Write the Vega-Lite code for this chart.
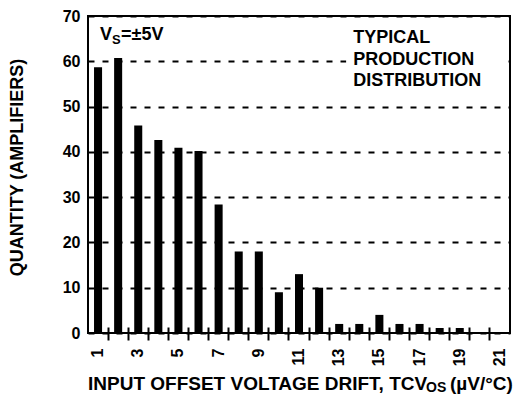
{
  "$schema": "https://vega.github.io/schema/vega-lite/v6.json",
  "width": 422,
  "height": 317,
  "autosize": {"type": "none"},
  "padding": {"left": 88, "top": 16, "right": 12, "bottom": 67},
  "background": "white",
  "config": {
    "font": "Liberation Sans",
    "view": {"stroke": "black", "strokeWidth": 2}
  },
  "layer": [
    {
      "data": {
        "values": [
          {"drift": 1, "count": 58.7},
          {"drift": 2, "count": 60.7},
          {"drift": 3, "count": 45.8},
          {"drift": 4, "count": 42.6},
          {"drift": 5, "count": 40.9},
          {"drift": 6, "count": 40.2},
          {"drift": 7, "count": 28.4},
          {"drift": 8, "count": 18},
          {"drift": 9, "count": 18},
          {"drift": 10, "count": 9},
          {"drift": 11, "count": 13},
          {"drift": 12, "count": 10},
          {"drift": 13, "count": 2},
          {"drift": 14, "count": 2},
          {"drift": 15, "count": 4},
          {"drift": 16, "count": 2},
          {"drift": 17, "count": 2},
          {"drift": 18, "count": 1.1},
          {"drift": 19, "count": 1.1},
          {"drift": 20, "count": 0},
          {"drift": 21, "count": 0}
        ]
      },
      "mark": {"type": "bar", "color": "black", "width": {"band": 0.4}},
      "encoding": {
        "x": {
          "field": "drift",
          "type": "ordinal",
          "scale": {"domain": [1,2,3,4,5,6,7,8,9,10,11,12,13,14,15,16,17,18,19,20,21], "paddingInner": 0, "paddingOuter": 0},
          "axis": {
            "title": null,
            "labelAngle": -90,
            "labelFontSize": 16,
            "labelFontWeight": "bold",
            "labelColor": "black",
            "labelExpr": "datum.value % 2 == 1 ? datum.label : ''",
            "bandPosition": 0,
            "labelOffset": 0,
            "tickSize": 13,
            "tickWidth": 2,
            "tickColor": "black",
            "tickOpacity": {"condition": {"test": "datum.value == 1", "value": 0}, "value": 1},
            "offset": -6,
            "domain": false,
            "labelPadding": 8,
            "grid": false
          }
        },
        "y": {
          "field": "count",
          "type": "quantitative",
          "scale": {"domain": [0, 70], "nice": false},
          "axis": {
            "title": "QUANTITY (AMPLIFIERS)",
            "titleFontSize": 18,
            "titleFontWeight": "bold",
            "titleColor": "black",
            "titlePadding": 36,
            "titleY": 151,
            "values": [0, 10, 20, 30, 40, 50, 60, 70],
            "labelFontSize": 16,
            "labelFontWeight": "bold",
            "labelColor": "black",
            "labelPadding": 8,
            "labelFlush": false,
            "tickSize": 0,
            "domain": false,
            "grid": true,
            "gridColor": "black",
            "gridWidth": 2,
            "gridDash": [6, 8],
            "gridOpacity": 1
          }
        }
      }
    },
    {
      "data": {"values": [{}]},
      "mark": {"type": "rect", "color": "white"},
      "encoding": {
        "x": {"datum": 13, "type": "ordinal", "bandPosition": 0.85},
        "x2": {"datum": 21, "bandPosition": 0.7},
        "y": {"datum": 68, "type": "quantitative"},
        "y2": {"datum": 54}
      }
    },
    {
      "data": {"values": [{}]},
      "mark": {"type": "text", "text": "V", "fontSize": 18, "fontWeight": "bold", "align": "left", "baseline": "alphabetic", "dx": 12, "color": "black"},
      "encoding": {"x": {"datum": 1, "type": "ordinal", "bandPosition": 0}, "y": {"datum": 64.7, "type": "quantitative"}}
    },
    {
      "data": {"values": [{}]},
      "mark": {"type": "text", "text": "S", "fontSize": 13, "fontWeight": "bold", "align": "left", "baseline": "alphabetic", "dx": 24, "dy": 4, "color": "black"},
      "encoding": {"x": {"datum": 1, "type": "ordinal", "bandPosition": 0}, "y": {"datum": 64.7, "type": "quantitative"}}
    },
    {
      "data": {"values": [{}]},
      "mark": {"type": "text", "text": "=±5V", "fontSize": 18, "fontWeight": "bold", "align": "left", "baseline": "alphabetic", "dx": 33, "color": "black"},
      "encoding": {"x": {"datum": 1, "type": "ordinal", "bandPosition": 0}, "y": {"datum": 64.7, "type": "quantitative"}}
    },
    {
      "data": {"values": [{}]},
      "mark": {"type": "text", "text": ["TYPICAL", "PRODUCTION", "DISTRIBUTION"], "lineHeight": 21.5, "fontSize": 18, "fontWeight": "bold", "align": "left", "baseline": "alphabetic", "dx": 4, "color": "black"},
      "encoding": {"x": {"datum": 14, "type": "ordinal", "bandPosition": 0}, "y": {"datum": 64, "type": "quantitative"}}
    },
    {
      "data": {"values": [{}]},
      "mark": {"type": "text", "text": "INPUT OFFSET VOLTAGE DRIFT, TCV", "fontSize": 19, "fontWeight": "bold", "align": "left", "baseline": "middle", "dx": 0, "color": "black", "clip": false},
      "encoding": {"x": {"datum": 1, "type": "ordinal", "bandPosition": 0}, "y": {"datum": -11.2, "type": "quantitative"}}
    },
    {
      "data": {"values": [{}]},
      "mark": {"type": "text", "text": "OS", "fontSize": 14, "fontWeight": "bold", "align": "left", "baseline": "middle", "dx": 338, "dy": 4, "color": "black", "clip": false},
      "encoding": {"x": {"datum": 1, "type": "ordinal", "bandPosition": 0}, "y": {"datum": -11.2, "type": "quantitative"}}
    },
    {
      "data": {"values": [{}]},
      "mark": {"type": "text", "text": "(µV/°C)", "fontSize": 19, "fontWeight": "bold", "align": "left", "baseline": "middle", "dx": 362, "color": "black", "clip": false},
      "encoding": {"x": {"datum": 1, "type": "ordinal", "bandPosition": 0}, "y": {"datum": -11.2, "type": "quantitative"}}
    }
  ]
}
